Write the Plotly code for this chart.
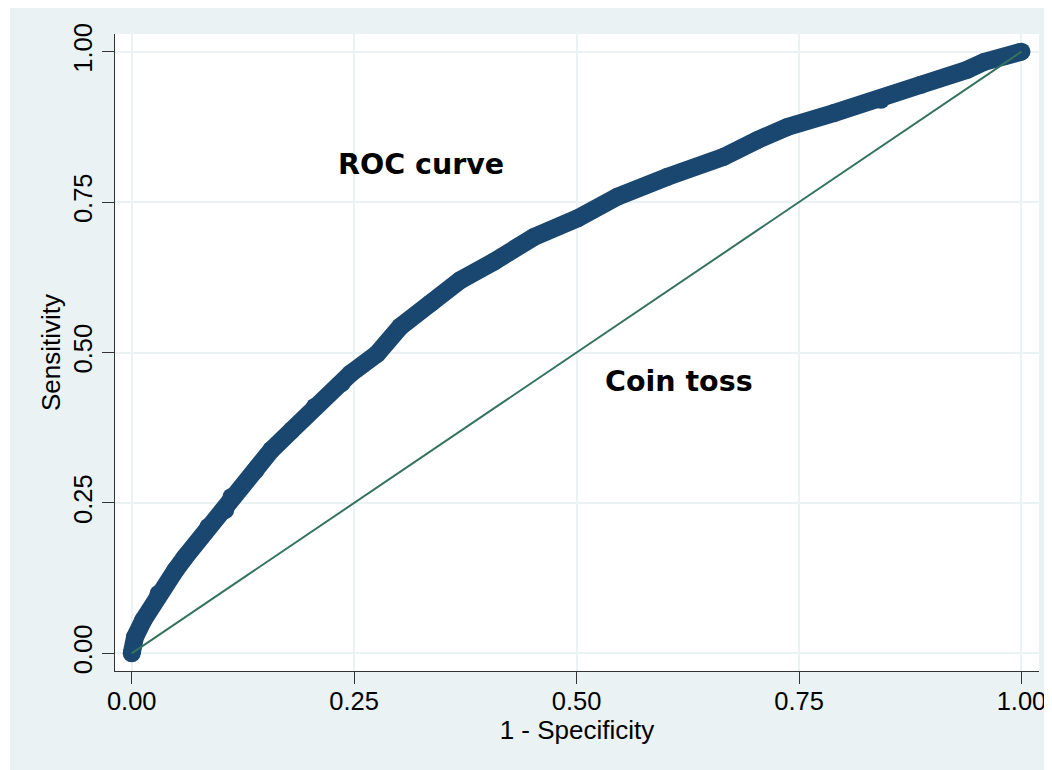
import plotly.graph_objects as go

# ROC curve points (1 - specificity, sensitivity)
fpr = [0.0, 0.0037, 0.013, 0.030, 0.049, 0.060, 0.086, 0.105, 0.112, 0.139, 0.157,
       0.180, 0.206, 0.236, 0.246, 0.276, 0.302, 0.336, 0.369, 0.407, 0.452, 0.501,
       0.546, 0.602, 0.665, 0.703, 0.737, 0.789, 0.842, 0.887, 0.939, 0.958, 1.0]
tpr = [0.0, 0.027, 0.055, 0.099, 0.138, 0.160, 0.210, 0.238, 0.260, 0.304, 0.338,
       0.371, 0.410, 0.449, 0.465, 0.498, 0.543, 0.582, 0.620, 0.651, 0.692, 0.723,
       0.759, 0.792, 0.825, 0.853, 0.875, 0.898, 0.920, 0.945, 0.970, 0.983, 1.0]

coin_x = [0.0, 1.0]
coin_y = [0.0, 1.0]

tick_vals = [0.0, 0.25, 0.5, 0.75, 1.0]
tick_text = ["0.00", "0.25", "0.50", "0.75", "1.00"]

BG = "#EAF2F3"
NAVY = "#1A476F"
GREEN = "#35735F"
AXIS = "#333333"

W, H = 1044, 762
ML, MR, MT, MB = 107, 13, 26, 99.3
PW, PH = W - ML - MR, H - MT - MB

fig = go.Figure()
fig.add_trace(go.Scatter(
    x=fpr, y=tpr, mode="lines+markers",
    line=dict(color=NAVY, width=18),
    marker=dict(color=NAVY, size=18, line=dict(width=0)),
    hoverinfo="skip", showlegend=False))
fig.add_trace(go.Scatter(
    x=coin_x, y=coin_y, mode="lines",
    line=dict(color=GREEN, width=2),
    hoverinfo="skip", showlegend=False))

fig.add_annotation(x=0.325, y=0.812, text="ROC curve", showarrow=False,
                   font=dict(family="DejaVu Sans", size=28.5, color="black"),
                   xanchor="center", yanchor="middle")
fig.add_annotation(x=0.615, y=0.451, text="Coin toss", showarrow=False,
                   font=dict(family="DejaVu Sans", size=28.5, color="black"),
                   xanchor="center", yanchor="middle")
fig.update_annotations(font_weight="bold")

# thin white strip on the left outside the outer background
fig.add_shape(type="rect", xref="paper", yref="paper",
              x0=-ML / PW - 0.01, x1=(2 - ML) / PW, y0=-0.3, y1=1.2,
              fillcolor="white", line=dict(width=0), layer="above")

axis_common = dict(
    tickvals=tick_vals, ticktext=tick_text,
    showgrid=True, gridcolor=BG, gridwidth=2,
    zeroline=False, showline=True, linecolor=AXIS, linewidth=1.2,
    ticks="outside", ticklen=12, tickwidth=1.2, tickcolor=AXIS,
    tickfont=dict(family="Liberation Sans", size=25.5, color="black"),
    automargin=False,
)

fig.update_layout(
    width=W, height=H,
    margin=dict(l=ML, r=MR, t=MT, b=MB),
    paper_bgcolor=BG, plot_bgcolor="white",
    xaxis=dict(range=[-0.0188, 1.0197], ticklabelstandoff=-5,
               title=dict(text="1 - Specificity", standoff=4,
                          font=dict(family="Liberation Sans", size=26, color="black")),
               **axis_common),
    yaxis=dict(range=[-0.0294, 1.0294], tickangle=-90,
               title=dict(text="Sensitivity", standoff=0,
                          font=dict(family="Liberation Sans", size=26, color="black")),
               **axis_common),
)

fig.write_html("out.html")
